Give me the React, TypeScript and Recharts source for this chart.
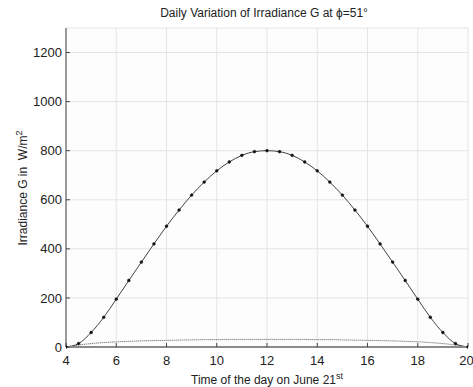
import React from "react";
import { LineChart, Line, XAxis, YAxis, CartesianGrid, Label } from "recharts";

// time of day (h), every half hour
const hours = [
  4, 4.5, 5, 5.5, 6, 6.5, 7, 7.5, 8, 8.5, 9, 9.5, 10, 10.5, 11, 11.5, 12,
  12.5, 13, 13.5, 14, 14.5, 15, 15.5, 16, 16.5, 17, 17.5, 18, 18.5, 19, 19.5, 20,
];
// global irradiance G (W/m2)
const globalG = [
  0, 14, 59, 121, 195, 271, 346, 420, 492, 558, 619, 672, 718, 754, 781, 796, 800,
  796, 781, 754, 718, 672, 619, 558, 492, 420, 346, 271, 195, 121, 59, 14, 0,
];
// diffuse part (dotted line)
const diffuseG = [
  0, 8, 14, 18, 21, 23, 25, 26, 27, 28, 29, 30, 30, 31, 31, 31, 31,
  31, 31, 31, 30, 30, 29, 28, 27, 26, 25, 23, 21, 18, 14, 8, 0,
];
const xTicks = [4, 6, 8, 10, 12, 14, 16, 18, 20];
const yTicks = [0, 200, 400, 600, 800, 1000, 1200];

const data = hours.map((h, i) => ({ t: h, g: globalG[i], d: diffuseG[i] }));

const font = "'Liberation Sans', Arial, sans-serif";

const XLabel = () => (
  <text x={267} y={384} textAnchor="middle" fontSize={12} fill="#222" fontFamily={font}>
    Time of the day on June 21
    <tspan fontSize={9} dy={-5}>st</tspan>
  </text>
);

const YLabel = () => (
  <text
    x={0}
    y={0}
    transform="translate(27,188) rotate(-90)"
    textAnchor="middle"
    fontSize={12}
    fill="#222"
    fontFamily={font}
  >
    {"Irradiance G in \u00a0W/m"}
    <tspan fontSize={9} dy={-5}>2</tspan>
  </text>
);

const App: React.FC = () => {
  return (
    <div style={{ position: "absolute", left: 0, top: 0, width: 473, height: 387, background: "#fff", fontFamily: font }}>
      <div
        style={{
          position: "absolute",
          left: 0,
          width: 528,
          top: 6,
          textAlign: "center",
          fontSize: 12,
          color: "#222",
        }}
      >
        Daily Variation of Irradiance G at ϕ=51°
      </div>
      <LineChart width={473} height={387} data={data} margin={{ top: 28, right: 5, bottom: 10, left: 26 }}>
        <CartesianGrid stroke="#e4e4e4" fill="#fdfdfd" />
        <XAxis
          dataKey="t"
          type="number"
          domain={[4, 20]}
          ticks={xTicks}
          height={30}
          tickSize={-4}
          tickMargin={13}
          axisLine={{ stroke: "#8a8a8a", strokeWidth: 2 }}
          tickLine={{ stroke: "#444" }}
          tick={{ fill: "#222", fontSize: 13, fontFamily: font }}
          allowDataOverflow
        >
          <Label content={<XLabel />} />
        </XAxis>
        <YAxis
          type="number"
          domain={[0, 1300]}
          ticks={yTicks}
          width={40}
          tickSize={-4}
          tickMargin={8}
          axisLine={{ stroke: "#444" }}
          tickLine={{ stroke: "#444" }}
          tick={{ fill: "#222", fontSize: 13, fontFamily: font }}
        >
          <Label content={<YLabel />} />
        </YAxis>
        <Line
          dataKey="d"
          type="monotone"
          stroke="#555"
          strokeWidth={1}
          strokeDasharray="1 1"
          dot={false}
          isAnimationActive={false}
        />
        <Line
          dataKey="g"
          type="monotone"
          stroke="#444"
          strokeWidth={1}
          dot={{ r: 1.4, fill: "#111", stroke: "#111", strokeWidth: 0.5 }}
          isAnimationActive={false}
        />
      </LineChart>
    </div>
  );
};

export default App;
